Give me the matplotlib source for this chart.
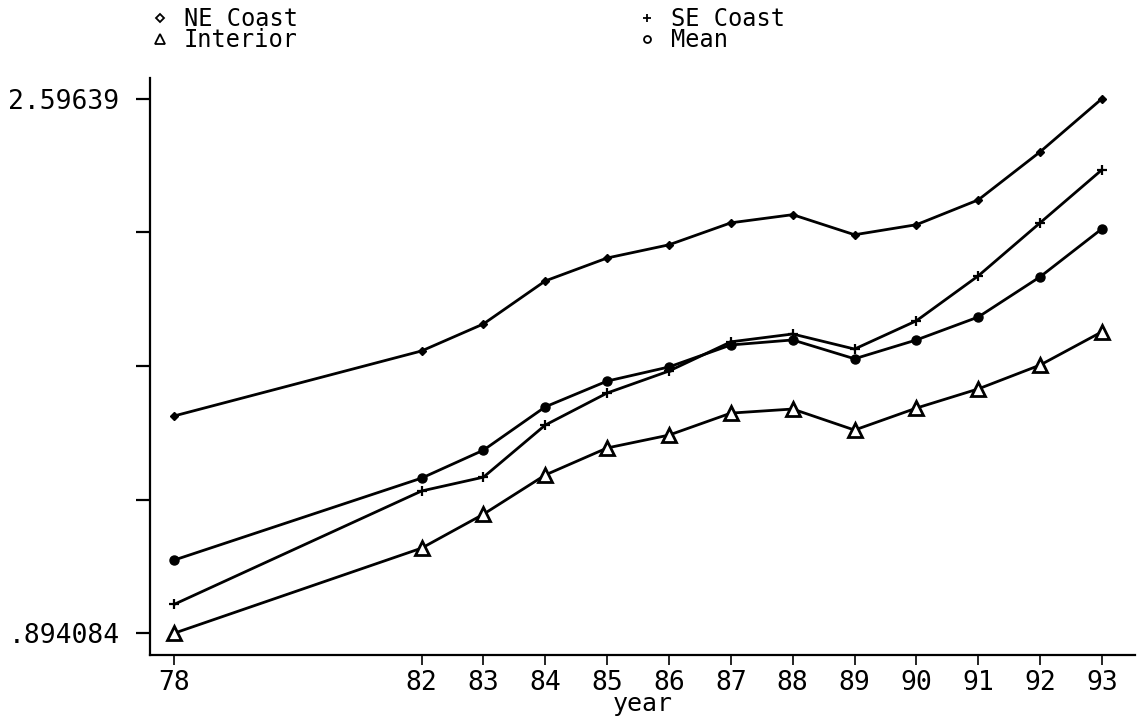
import matplotlib
matplotlib.use("Agg")
import matplotlib.pyplot as plt
import numpy as np

# values
years = [78, 82, 83, 84, 85, 86, 87, 88, 89, 90, 91, 92, 93]
ne_coast = [1.586, 1.793, 1.879, 2.016, 2.089, 2.131, 2.201, 2.227, 2.163, 2.195, 2.274, 2.427, 2.59639]
se_coast = [0.986, 1.347, 1.391, 1.557, 1.659, 1.729, 1.822, 1.847, 1.799, 1.889, 2.032, 2.201, 2.370]
mean = [1.127, 1.388, 1.477, 1.615, 1.697, 1.742, 1.812, 1.828, 1.768, 1.828, 1.901, 2.029, 2.182]
interior = [0.894084, 1.165, 1.273, 1.398, 1.484, 1.525, 1.595, 1.608, 1.541, 1.611, 1.672, 1.748, 1.854]
y_min, y_max = 0.894084, 2.59639
y_labels = [".894084", "", "", "", "2.59639"]

plt.rcParams['font.family'] = ['DejaVu Sans Mono']

fig = plt.figure(figsize=(11.37, 7.2), dpi=100)
ax = fig.add_axes([0.132, 0.090, 0.866, 0.802])

lw = 2.0
ax.plot(years, ne_coast, color='black', lw=lw, marker='D', ms=4.5, mfc='black', mec='black')
ax.plot(years, se_coast, color='black', lw=lw, marker='+', ms=7, mew=1.6)
ax.plot(years, mean, color='black', lw=lw, marker='o', ms=6.5, mfc='black', mec='black')
ax.plot(years, interior, color='black', lw=lw, marker='^', ms=10, mfc='white', mec='black', mew=2.0)

ax.set_xlim(77.61, 93.53)
ax.set_ylim(0.824, 2.663)
ax.set_xticks(years)
ax.set_xticklabels([str(y) for y in years], fontsize=19)
ax.set_yticks(np.linspace(y_min, y_max, 5))
ax.set_yticklabels(y_labels, fontsize=19)
ax.set_xlabel('year', fontsize=18, labelpad=-3)

for side in ['top', 'right']:
    ax.spines[side].set_visible(False)
for side in ['left', 'bottom']:
    ax.spines[side].set_linewidth(1.6)
ax.tick_params(axis='y', direction='out', length=10, width=1.6, pad=12)
ax.tick_params(axis='x', direction='out', length=7, width=1.2, pad=4)

# legend in two columns at the top, markers drawn open as in the original
h1, = ax.plot([], [], ls='none', marker='D', ms=4.5, mfc='white', mec='black', mew=1.3)
h2, = ax.plot([], [], ls='none', marker='^', ms=7, mfc='white', mec='black', mew=1.3)
h3, = ax.plot([], [], ls='none', marker='+', ms=6, mew=1.3, color='black')
h4, = ax.plot([], [], ls='none', marker='o', ms=5, mfc='white', mec='black', mew=1.3)
fig.legend([h1, h2, h3, h4], ['NE Coast', 'Interior', 'SE Coast', 'Mean'],
           ncol=2, loc='upper left', bbox_to_anchor=(0.122, 1.007), frameon=False,
           fontsize=17, handlelength=0.8, handletextpad=0.6, columnspacing=14.4,
           labelspacing=-0.1, borderpad=0.0)

fig.savefig('out.png', dpi=100)
